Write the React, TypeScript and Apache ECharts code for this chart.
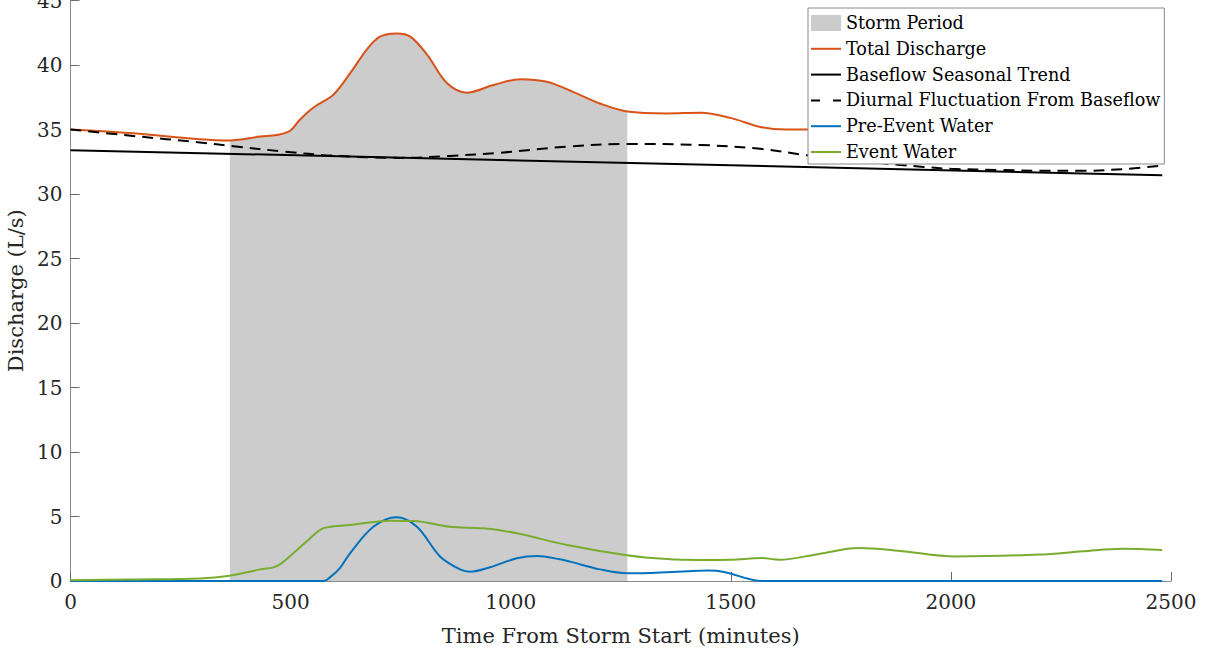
import React, { useEffect, useRef } from "react";
import * as echarts from "echarts";

const xTicks = { min: 0, max: 2500, interval: 500 };
const yTicks = { min: 0, max: 45, interval: 5 };

const stormStart = 362;
const stormEnd = 1265;

const totalDischarge: number[][] = [
  [0, 35.0], [142, 34.7], [294, 34.25], [362, 34.15], [431, 34.45], [469, 34.57], [499, 34.9],
  [522, 35.8], [552, 36.7], [597, 37.7], [635, 39.35], [673, 41.2], [703, 42.2], [741, 42.45],
  [772, 42.2], [810, 40.8], [855, 38.6], [900, 37.85], [961, 38.45], [1022, 38.9], [1082, 38.7],
  [1143, 37.9], [1204, 37.0], [1265, 36.4], [1355, 36.25], [1431, 36.3], [1499, 35.9],
  [1567, 35.2], [1624, 35.0], [1700, 35.0], [1790, 35.1], [1885, 34.6], [2000, 33.85],
  [2112, 33.86], [2200, 33.85], [2300, 34.1], [2390, 34.45], [2480, 34.6],
];

const baseflowTrend: number[][] = [
  [0, 33.4], [2480, 31.45],
];

const diurnalFluctuation: number[][] = [
  [0, 35.0], [142, 34.5], [294, 34.0], [370, 33.7], [483, 33.3], [597, 32.97], [749, 32.8],
  [862, 32.95], [976, 33.2], [1128, 33.67], [1264, 33.88], [1431, 33.8], [1567, 33.5],
  [1673, 33.0], [1780, 32.6], [1885, 32.25], [1938, 32.1], [2000, 31.95], [2112, 31.86],
  [2200, 31.8], [2301, 31.8], [2400, 31.95], [2480, 32.2],
];

const preEventWater: number[][] = [
  [0, 0], [575, 0], [590, 0.3], [612, 1.0], [635, 2.15], [688, 4.2], [740, 4.94], [787, 4.2],
  [840, 1.88], [885, 0.9], [908, 0.72], [953, 1.06], [1014, 1.76], [1060, 1.94], [1112, 1.68],
  [1135, 1.5], [1203, 0.9], [1264, 0.6], [1320, 0.62], [1400, 0.75], [1448, 0.81], [1485, 0.7],
  [1571, 0], [2480, 0],
];

const eventWater: number[][] = [
  [0, 0.05], [142, 0.12], [294, 0.2], [361, 0.41], [431, 0.9], [469, 1.16], [506, 2.15],
  [544, 3.3], [575, 4.1], [635, 4.34], [726, 4.67], [779, 4.65], [862, 4.2], [938, 4.08],
  [1014, 3.7], [1128, 2.79], [1264, 2.0], [1355, 1.7], [1431, 1.63], [1500, 1.65], [1571, 1.78],
  [1610, 1.65], [1700, 2.1], [1790, 2.55], [1880, 2.35], [2010, 1.9], [2200, 2.05], [2300, 2.3],
  [2390, 2.5], [2480, 2.4],
];

const FONT = "DejaVu Serif";

export default function App() {
  const ref = useRef<HTMLDivElement>(null);
  useEffect(() => {
    if (!ref.current) return;
    const chart = echarts.init(ref.current, null, { renderer: "svg" });
    const stormData = totalDischarge.filter((p) => p[0] >= stormStart && p[0] <= stormEnd);
    const smooth = 0.35;
    const lineBase = (name: string, data: number[][], color: string, extra: any = {}) => ({
      name,
      type: "line",
      data,
      smooth,
      showSymbol: false,
      symbol: "none",
      clip: false,
      color,
      itemStyle: { color },
      lineStyle: { color, width: 2, ...(extra.lineStyle || {}) },
      z: 3,
    });
    const lineLegend = (name: string, extra: any = {}) => ({
      name,
      itemStyle: { opacity: 0 },
      ...extra,
    });
    chart.setOption({
      animation: false,
      textStyle: { fontFamily: FONT },
      grid: {
        left: 70.5,
        right: 38,
        top: 0.5,
        bottom: 71,
        containLabel: false,
        outerBoundsMode: "none",
      },
      legend: {
        orient: "vertical",
        left: 808,
        top: 8,
        padding: [6, 4, 3, 2],
        itemGap: 7.8,
        itemWidth: 30,
        itemHeight: 16,
        backgroundColor: "#ffffff",
        borderColor: "#8a8a8a",
        borderWidth: 1,
        borderRadius: 0,
        textStyle: { fontFamily: FONT, fontSize: 17.6, color: "#000" },
        data: [
          { name: "Storm Period", icon: "rect", itemStyle: { color: "#cccccc" } },
          lineLegend("Total Discharge"),
          lineLegend("Baseflow Seasonal Trend"),
          lineLegend("Diurnal Fluctuation From Baseflow", {
            lineStyle: { type: [9, 13], color: "#000", width: 2 },
          }),
          lineLegend("Pre-Event Water"),
          lineLegend("Event Water"),
        ],
        z: 10,
      },
      xAxis: {
        type: "value",
        min: xTicks.min,
        max: xTicks.max,
        interval: xTicks.interval,
        name: "Time From Storm Start (minutes)",
        nameLocation: "middle",
        nameGap: 44,
        nameTextStyle: { fontFamily: FONT, fontSize: 21, color: "#262626" },
        axisLine: { show: true, lineStyle: { color: "#8a8a8a", width: 1 } },
        axisTick: { show: true, inside: true, length: 9, lineStyle: { color: "#6a6a6a" } },
        axisLabel: {
          fontFamily: FONT,
          fontSize: 20,
          color: "#262626",
          margin: 11,
          formatter: (v: number) => String(v),
        },
        splitLine: { show: false },
      },
      yAxis: {
        type: "value",
        min: yTicks.min,
        max: yTicks.max,
        interval: yTicks.interval,
        name: "Discharge (L/s)",
        nameLocation: "middle",
        nameGap: 29,
        nameTextStyle: { fontFamily: FONT, fontSize: 21, color: "#262626" },
        axisLine: { show: true, lineStyle: { color: "#8a8a8a", width: 1 } },
        axisTick: { show: true, inside: true, length: 9, lineStyle: { color: "#6a6a6a" } },
        axisLabel: {
          fontFamily: FONT,
          fontSize: 20,
          color: "#262626",
          margin: 8,
          formatter: (v: number) => String(v),
        },
        splitLine: { show: false },
      },
      series: [
        {
          name: "Storm Period",
          type: "line",
          data: stormData,
          smooth,
          showSymbol: false,
          symbol: "none",
          color: "#cccccc",
          itemStyle: { color: "#cccccc" },
          lineStyle: { width: 0, color: "#cccccc" },
          areaStyle: { color: "#cccccc", opacity: 1 },
          z: 1,
        },
        lineBase("Total Discharge", totalDischarge, "#D95319"),
        lineBase("Baseflow Seasonal Trend", baseflowTrend, "#000000"),
        lineBase("Diurnal Fluctuation From Baseflow", diurnalFluctuation, "#000000", {
          lineStyle: { type: [11, 7] },
        }),
        lineBase("Pre-Event Water", preEventWater, "#0072BD"),
        lineBase("Event Water", eventWater, "#77AC30"),
      ],
    });
    return () => chart.dispose();
  }, []);
  return (
    <div
      ref={ref}
      style={{ position: "absolute", left: 0, top: 0, width: 1209, height: 652, background: "#fff" }}
    />
  );
}
